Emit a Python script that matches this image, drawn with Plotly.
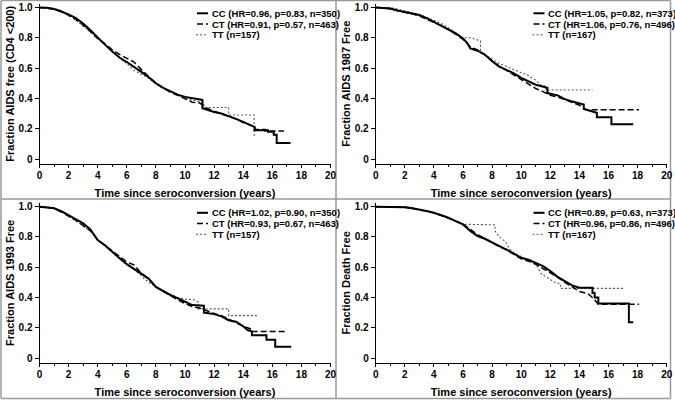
import plotly.graph_objects as go

# ---------------- data ----------------
x_ticks = [0, 2, 4, 6, 8, 10, 12, 14, 16, 18, 20]
y_tickvals = [0, 0.2, 0.4, 0.6, 0.8, 1.0]
y_ticktext = ["0", "0.2", "0.4", "0.6", "0.8", "1.0"]
x_title = "Time since seroconversion (years)"
y_titles = ["Fraction AIDS free (CD4 <200)", "Fraction AIDS 1987 Free",
            "Fraction AIDS 1993 Free", "Fraction Death Free"]

p1_labels = ["CC (HR=0.96, p=0.83, n=350)", "CT (HR=0.91, p=0.57, n=463)", "TT (n=157)"]
p2_labels = ["CC (HR=1.05, p=0.82, n=373)", "CT (HR=1.06, p=0.76, n=496)", "TT (n=167)"]
p3_labels = ["CC (HR=1.02, p=0.90, n=350)", "CT (HR=0.93, p=0.67, n=463)", "TT (n=157)"]
p4_labels = ["CC (HR=0.89, p=0.63, n=373)", "CT (HR=0.96, p=0.86, n=496)", "TT (n=167)"]

# Survival curves (repeated times mark visible vertical drops)
# Panel 1: AIDS free (CD4 <200)
p1_cc_t = [0, 0.5, 1, 1.5, 2, 2.5, 3, 3.5, 4, 4.5, 5, 5.5, 6, 6.5, 7, 7.5, 8, 8.5, 9, 9.5, 10, 10.5, 11.2, 11.2, 12, 12.5, 13, 13.5, 14, 14.5, 14.8, 14.8, 15.7, 15.7, 16.1, 16.1, 16.3, 16.3, 17.25]
p1_cc_s = [1.0, 0.998, 0.99, 0.975, 0.955, 0.93, 0.895, 0.85, 0.80, 0.755, 0.71, 0.67, 0.64, 0.61, 0.575, 0.54, 0.50, 0.47, 0.445, 0.425, 0.41, 0.40, 0.39, 0.335, 0.31, 0.30, 0.285, 0.265, 0.245, 0.225, 0.21, 0.19, 0.19, 0.18, 0.18, 0.16, 0.16, 0.105, 0.105]
p1_ct_t = [0, 0.5, 1, 1.5, 2, 2.5, 3, 3.5, 4, 4.5, 5, 5.5, 6, 6.5, 7, 7.5, 8, 8.5, 9, 9.5, 10, 10.5, 11, 11.5, 12, 12.5, 13, 13.5, 14, 14.5, 14.75, 14.75, 15.5, 15.5, 16.8]
p1_ct_s = [1.0, 0.997, 0.99, 0.975, 0.95, 0.92, 0.885, 0.84, 0.795, 0.76, 0.72, 0.69, 0.665, 0.64, 0.59, 0.545, 0.50, 0.47, 0.44, 0.42, 0.395, 0.375, 0.37, 0.335, 0.315, 0.30, 0.285, 0.265, 0.24, 0.225, 0.215, 0.195, 0.195, 0.185, 0.185]
p1_tt_t = [0, 0.5, 1, 1.5, 2, 2.5, 3, 3.5, 4, 4.5, 5, 5.5, 6, 6.5, 7, 7.5, 8, 8.5, 9, 9.5, 10, 10.5, 11, 11.3, 11.3, 13.0, 13.0, 14.75, 14.75]
p1_tt_s = [1.0, 1.0, 0.995, 0.98, 0.955, 0.92, 0.875, 0.845, 0.80, 0.755, 0.715, 0.665, 0.63, 0.585, 0.56, 0.535, 0.495, 0.465, 0.445, 0.42, 0.40, 0.39, 0.375, 0.37, 0.34, 0.34, 0.29, 0.29, 0.145]

# Panel 2: AIDS 1987
p2_cc_t = [0, 0.5, 1, 1.5, 2, 2.5, 3, 3.5, 4, 4.5, 5, 5.5, 6, 6.3, 6.5, 7, 7.5, 8, 8.5, 9, 9.5, 10, 10.5, 11, 11.8, 11.8, 12.5, 13, 13.5, 14, 14.3, 14.3, 15, 15.2, 15.2, 16.2, 16.2, 17.7]
p2_cc_s = [1.0, 0.998, 0.993, 0.98, 0.97, 0.96, 0.95, 0.93, 0.905, 0.885, 0.86, 0.83, 0.795, 0.765, 0.73, 0.715, 0.69, 0.645, 0.61, 0.59, 0.565, 0.535, 0.51, 0.49, 0.47, 0.435, 0.42, 0.395, 0.38, 0.365, 0.36, 0.33, 0.31, 0.305, 0.275, 0.275, 0.23, 0.23]
p2_ct_t = [0, 0.5, 1, 1.5, 2, 2.5, 3, 3.5, 4, 4.5, 5, 5.5, 6, 6.5, 7, 7.5, 8, 8.5, 9, 9.5, 10, 10.5, 11, 11.5, 12, 12.5, 13, 13.5, 14, 14.5, 18.1]
p2_ct_s = [1.0, 0.998, 0.99, 0.98, 0.968, 0.958, 0.945, 0.925, 0.905, 0.88, 0.855, 0.825, 0.79, 0.74, 0.72, 0.685, 0.645, 0.61, 0.585, 0.555, 0.52, 0.49, 0.465, 0.445, 0.42, 0.41, 0.39, 0.375, 0.355, 0.325, 0.325]
p2_tt_t = [0, 0.5, 1, 1.5, 2, 2.5, 3, 3.5, 4, 4.5, 5, 5.5, 6, 6.5, 7.2, 7.2, 7.5, 8, 8.5, 9, 9.5, 10, 10.5, 11, 11.3, 11.7, 11.7, 14.9]
p2_tt_s = [1.0, 1.0, 1.0, 0.99, 0.98, 0.965, 0.955, 0.935, 0.915, 0.895, 0.865, 0.835, 0.80, 0.80, 0.78, 0.70, 0.69, 0.66, 0.63, 0.61, 0.59, 0.565, 0.55, 0.52, 0.49, 0.48, 0.455, 0.455]

# Panel 3: AIDS 1993
p3_cc_t = [0, 0.5, 1, 1.5, 2, 2.5, 3, 3.5, 4, 4.5, 5, 5.5, 6, 6.5, 7, 7.5, 8, 8.5, 9, 9.5, 10, 10.5, 11.3, 11.3, 12, 12.5, 13, 13.5, 14, 14.3, 14.6, 14.6, 15.6, 15.6, 16.2, 16.2, 17.3]
p3_cc_s = [1.0, 0.997, 0.99, 0.97, 0.945, 0.92, 0.89, 0.85, 0.78, 0.745, 0.70, 0.66, 0.62, 0.59, 0.56, 0.525, 0.47, 0.44, 0.415, 0.395, 0.37, 0.35, 0.345, 0.30, 0.29, 0.275, 0.25, 0.24, 0.21, 0.185, 0.175, 0.15, 0.15, 0.12, 0.12, 0.075, 0.075]
p3_ct_t = [0, 0.5, 1, 1.5, 2, 2.5, 3, 3.5, 4, 4.5, 5, 5.5, 6, 6.5, 6.9, 7.5, 8, 8.5, 9, 9.5, 10, 10.5, 11, 11.5, 12, 12.5, 13, 13.5, 14, 14.6, 14.6, 16.9]
p3_ct_s = [1.0, 0.997, 0.99, 0.965, 0.94, 0.91, 0.875, 0.84, 0.78, 0.745, 0.71, 0.675, 0.635, 0.615, 0.57, 0.52, 0.47, 0.44, 0.41, 0.385, 0.36, 0.34, 0.33, 0.31, 0.295, 0.28, 0.255, 0.235, 0.21, 0.19, 0.175, 0.175]
p3_tt_t = [0, 0.5, 1, 1.5, 2, 2.5, 3, 3.5, 4, 4.5, 5, 5.5, 6, 6.5, 7, 7.5, 8, 8.5, 9, 9.5, 10, 10.6, 10.9, 10.9, 13.0, 13.0, 15.0]
p3_tt_s = [1.0, 1.0, 0.99, 0.97, 0.94, 0.905, 0.87, 0.84, 0.78, 0.74, 0.70, 0.66, 0.615, 0.585, 0.54, 0.50, 0.47, 0.445, 0.42, 0.40, 0.39, 0.385, 0.37, 0.325, 0.325, 0.28, 0.28]

# Panel 4: Death
p4_cc_t = [0, 1, 2, 2.5, 3, 3.5, 4, 4.5, 5, 5.5, 6, 6.5, 7, 7.5, 8, 8.5, 9, 9.5, 10, 10.5, 11, 11.5, 12, 12.5, 13, 13.5, 14, 14.9, 14.9, 15.05, 15.05, 15.3, 15.3, 17.4, 17.4, 17.7]
p4_cc_s = [1.0, 1.0, 0.997, 0.99, 0.982, 0.972, 0.96, 0.945, 0.927, 0.905, 0.883, 0.84, 0.806, 0.788, 0.762, 0.74, 0.717, 0.69, 0.662, 0.65, 0.63, 0.607, 0.574, 0.536, 0.508, 0.48, 0.464, 0.464, 0.43, 0.43, 0.40, 0.40, 0.36, 0.36, 0.236, 0.236]
p4_ct_t = [0, 1, 2, 2.5, 3, 3.5, 4, 4.5, 5, 5.5, 6, 6.5, 7, 7.5, 8, 8.5, 9, 9.5, 10, 10.5, 11, 11.5, 12, 12.5, 13, 13.5, 14, 14.6, 15, 15.3, 18.1]
p4_ct_s = [1.0, 1.0, 0.997, 0.99, 0.98, 0.97, 0.958, 0.943, 0.925, 0.905, 0.885, 0.85, 0.815, 0.79, 0.76, 0.735, 0.715, 0.685, 0.655, 0.64, 0.62, 0.59, 0.565, 0.535, 0.50, 0.47, 0.44, 0.425, 0.39, 0.355, 0.355]
p4_tt_t = [0, 1, 2, 2.5, 3, 3.5, 4, 4.5, 5, 5.5, 6, 6.5, 8.2, 8.2, 8.5, 8.9, 9.2, 9.5, 10, 10.5, 11, 11.4, 12.3, 12.7, 12.7, 17.1]
p4_tt_s = [1.0, 1.0, 1.0, 0.995, 0.985, 0.975, 0.96, 0.945, 0.925, 0.905, 0.885, 0.883, 0.88, 0.84, 0.80, 0.77, 0.72, 0.695, 0.67, 0.65, 0.62, 0.555, 0.50, 0.49, 0.46, 0.46]

# ---------------- figure ----------------
W, H = 675, 400
FONT = "Liberation Sans, Arial, sans-serif"

def px(x):
    return x / W

def py(y):
    return 1 - y / H

panels = [
    dict(series=[(p1_tt_t, p1_tt_s), (p1_ct_t, p1_ct_s), (p1_cc_t, p1_cc_s)], labels=p1_labels,
         xd=(39.5, 330.5), yd=(163.5, 4), xoff=0, yoff=0),
    dict(series=[(p2_tt_t, p2_tt_s), (p2_ct_t, p2_ct_s), (p2_cc_t, p2_cc_s)], labels=p2_labels,
         xd=(375.7, 666.7), yd=(163.5, 4), xoff=336.5, yoff=0),
    dict(series=[(p3_tt_t, p3_tt_s), (p3_ct_t, p3_ct_s), (p3_cc_t, p3_cc_s)], labels=p3_labels,
         xd=(39.5, 330.5), yd=(362.5, 203.2), xoff=0, yoff=199.5),
    dict(series=[(p4_tt_t, p4_tt_s), (p4_ct_t, p4_ct_s), (p4_cc_t, p4_cc_s)], labels=p4_labels,
         xd=(375.7, 666.7), yd=(362.5, 203.2), xoff=336.5, yoff=199.5),
]

styles = [  # TT, CT, CC
    dict(color="#555555", width=1.1, dash="2px,2px"),
    dict(color="black", width=1.5, dash="6px,3px"),
    dict(color="black", width=2.0, dash="solid"),
]
names = ["TT", "CT", "CC"]

fig = go.Figure()
shapes = []
annotations = []

for i, p in enumerate(panels):
    k = "" if i == 0 else str(i + 1)
    xa, ya = "x" + k, "y" + k
    for (t, s), st, nm in zip(p["series"], styles, names):
        fig.add_trace(go.Scatter(x=t, y=s, mode="lines", line_shape="linear", name=nm,
                                 line=st, xaxis=xa, yaxis=ya, showlegend=False,
                                 hoverinfo="skip"))
    ybot, ytop = p["yd"]
    unit = (ybot - 4.5) - (ytop + 3.5)
    yr0 = -4.5 / unit
    yr1 = 1 + 3.5 / unit
    fig.layout["xaxis" + k] = dict(
        domain=[px(p["xd"][0]), px(p["xd"][1])], range=[0, 20], anchor=ya,
        tickvals=x_ticks, ticks="outside", ticklen=3, tickwidth=1, tickcolor="black",
        ticklabelstandoff=-1,
        minor=dict(tickvals=[1, 3, 5, 7, 9, 11, 13, 15, 17, 19], ticks="outside", ticklen=2,
                   tickcolor="black", tickwidth=1),
        showline=True, linecolor="black", linewidth=1, showgrid=False, zeroline=False,
        tickfont=dict(family=FONT, size=10, color="black", weight="bold"),
        title=dict(text=x_title, standoff=9,
                   font=dict(family=FONT, size=11, color="black", weight="bold")),
        automargin=False, fixedrange=True)
    fig.layout["yaxis" + k] = dict(
        domain=[py(ybot), py(ytop)], range=[yr0, yr1], anchor=xa,
        tickvals=y_tickvals, ticktext=y_ticktext, ticks="outside", ticklen=4, tickwidth=1,
        tickcolor="black", showline=True, linecolor="black", linewidth=1, showgrid=False,
        zeroline=False,
        tickfont=dict(family=FONT, size=10, color="black", weight="bold"),
        title=dict(text=y_titles[i], standoff=1,
                   font=dict(family=FONT, size=11, color="black", weight="bold")),
        automargin=False, fixedrange=True)

    # legend (samples + labels) in the upper right of each panel
    xo, yo = p["xoff"], p["yoff"]
    rows = [13.3 + yo, 24.0 + yo, 34.7 + yo]
    legend_styles = [styles[2], styles[1], styles[0]]
    sample_x = [(197 + xo, 208 + xo), (197 + xo, 208 + xo), (196 + xo, 208 + xo)]
    for r, lab, st, (sx0, sx1) in zip(rows, p["labels"], legend_styles, sample_x):
        shapes.append(dict(type="line", xref="paper", yref="paper",
                           x0=px(sx0), x1=px(sx1), y0=py(r), y1=py(r),
                           line=dict(color=st["color"], width=st["width"], dash=st["dash"])))
        annotations.append(dict(text=lab, xref="paper", yref="paper", x=px(209.5 + xo), y=py(r),
                                xanchor="left", yanchor="middle", showarrow=False,
                                font=dict(family=FONT, size=9.5, color="black", weight="bold")))

# panel frame lines
border = dict(color="#9a9a9a", width=1.5)
for (x0, y0, x1, y1) in [(1, 0.5, 1, 398.5), (336, 0.5, 336, 398.5), (670.5, 0.5, 670.5, 398.5),
                         (1, 0.5, 670.5, 0.5), (1, 199, 670.5, 199), (1, 398.5, 670.5, 398.5)]:
    shapes.append(dict(type="line", xref="paper", yref="paper", x0=px(x0), x1=px(x1),
                       y0=py(y0), y1=py(y1), line=border, layer="below"))

fig.update_layout(width=W, height=H, margin=dict(l=0, r=0, t=0, b=0, autoexpand=False),
                  paper_bgcolor="white", plot_bgcolor="white",
                  shapes=shapes, annotations=annotations, showlegend=False,
                  font=dict(family=FONT, color="black"))

fig.write_html("out.html", config={"displayModeBar": False},
               post_script="document.body.style.margin='0';document.body.style.padding='0';")
